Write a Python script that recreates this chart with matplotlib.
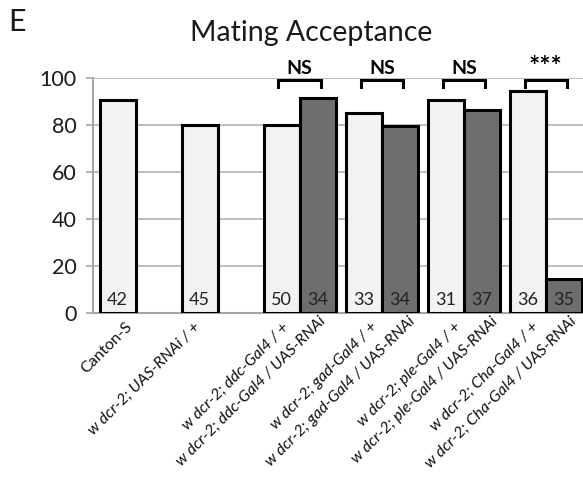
import matplotlib
matplotlib.use("Agg")
import matplotlib.pyplot as plt
import matplotlib.transforms as mtransforms
import numpy as np

plt.rcParams['font.family'] = ['Lato', 'DejaVu Sans']

categories = [
    "Canton-S",
    "w dcr-2; UAS-RNAi / +",
    "w dcr-2; ddc-Gal4 / +\nw dcr-2; ddc-Gal4 / UAS-RNAi",
    "w dcr-2; gad-Gal4 / +\nw dcr-2; gad-Gal4 / UAS-RNAi",
    "w dcr-2; ple-Gal4 / +\nw dcr-2; ple-Gal4 / UAS-RNAi",
    "w dcr-2; Cha-Gal4 / +\nw dcr-2; Cha-Gal4 / UAS-RNAi",
]
control_values = [90.5, 80.0, 80.0, 85.0, 90.5, 94.5]
rnai_values = [None, None, 91.5, 79.5, 86.5, 14.5]
control_n = [42, 45, 50, 33, 31, 36]
rnai_n = [None, None, 34, 34, 37, 35]
significance = [None, None, "NS", "NS", "NS", "***"]
y_ticks = [0, 20, 40, 60, 80, 100]

# label placement style (pixel offsets of first-line end from category centre)
label_dx = [-6, -19, -13, -6, -5, -9]
label_dy = 12
line_gap = 22
target_long_line = 206  # pixel length of the longest label line

W, H = 583, 486
fig = plt.figure(figsize=(W / 100, H / 100), dpi=100)
ax_left, ax_right = 93 / W, 587 / W
ax_bottom, ax_top = 1 - 313 / H, 1 - 78 / H
ax = fig.add_axes([ax_left, ax_bottom, ax_right - ax_left, ax_top - ax_bottom])

x = np.arange(len(categories))
bw = 0.44
light = "#f2f2f2"
dark = "#6e6e6e"

for i in x:
    ax.bar(i - bw / 2, control_values[i], width=bw, color=light, edgecolor="black",
           linewidth=2.2, zorder=3)
    ax.text(i - bw / 2, 5.5, str(control_n[i]), ha="center", va="center",
            fontsize=13, color="#222222", zorder=4)
    if rnai_values[i] is not None:
        ax.bar(i + bw / 2, rnai_values[i], width=bw, color=dark, edgecolor="black",
               linewidth=2.2, zorder=3)
        ax.text(i + bw / 2, 5.5, str(rnai_n[i]), ha="center", va="center",
                fontsize=13, color="#222222", zorder=4)
    if significance[i] is not None:
        x0, x1 = i - 0.26, i + 0.26
        ax.plot([x0, x0, x1, x1], [96.3, 99.2, 99.2, 96.3], color="black",
                lw=2.2, clip_on=False, zorder=5, solid_joinstyle="miter")
        is_ns = significance[i] == "NS"
        ax.text(i, 100.3 if is_ns else 99.5, significance[i], ha="center", va="bottom",
                fontsize=14 if is_ns else 19,
                fontweight="bold", clip_on=False, zorder=5)

ax.set_xlim(-0.52, 5.5)
ax.set_ylim(0, 100)
ax.set_yticks(y_ticks)
ax.set_yticklabels([str(t) for t in y_ticks], fontsize=15.5, color="#1a1a1a")
ax.tick_params(axis="y", length=5, width=1.2, color="#a6a6a6", pad=7)
ax.set_xticks([])
ax.yaxis.grid(True, color="#b3b3b3", lw=1.2, zorder=0)
ax.set_axisbelow(True)
for s in ["top", "right"]:
    ax.spines[s].set_visible(False)
ax.spines["left"].set_color("#a6a6a6")
ax.spines["left"].set_linewidth(1.5)
ax.spines["bottom"].set_color("#a6a6a6")
ax.spines["bottom"].set_linewidth(1.5)

# ---- category labels ----
renderer = fig.canvas.get_renderer()


def text_len(s, size, style):
    t = fig.text(0, 0, s, fontsize=size, style=style)
    w = t.get_window_extent(renderer).width
    t.remove()
    return w


longest = max((ln for lab in categories for ln in lab.split("\n")), key=len)
lab_size = 14 * target_long_line / text_len(longest, 14, "italic")

base = mtransforms.blended_transform_factory(ax.transData, ax.transAxes)
c = np.sqrt(0.5)
along = np.array([c, c])
down = np.array([c, -c])
for i, lab in enumerate(categories):
    style = "normal" if i == 0 else "italic"
    lines = lab.split("\n")
    p1 = np.array([label_dx[i], -label_dy], dtype=float)
    len1 = text_len(lines[0], lab_size, style)
    for k, ln in enumerate(lines):
        lk = text_len(ln, lab_size, style)
        p = p1 + along * (lk - len1) / 2 + down * line_gap * k
        tr = base + mtransforms.ScaledTranslation(p[0] / 100, p[1] / 100,
                                                  fig.dpi_scale_trans)
        ax.text(i, 0, ln, transform=tr, rotation=45, rotation_mode="anchor",
                ha="right", va="center", fontsize=lab_size, style=style,
                color="#111111", clip_on=False)

fig.text(190 / W, 1 - 33 / H, "Mating Acceptance", fontsize=20.5, ha="left",
         va="center", color="#1a1a1a")
fig.text(8 / W, 1 - 22 / H, "E", fontsize=22, ha="left", va="center",
         color="#1a1a1a")

fig.savefig("out.png", dpi=100)
